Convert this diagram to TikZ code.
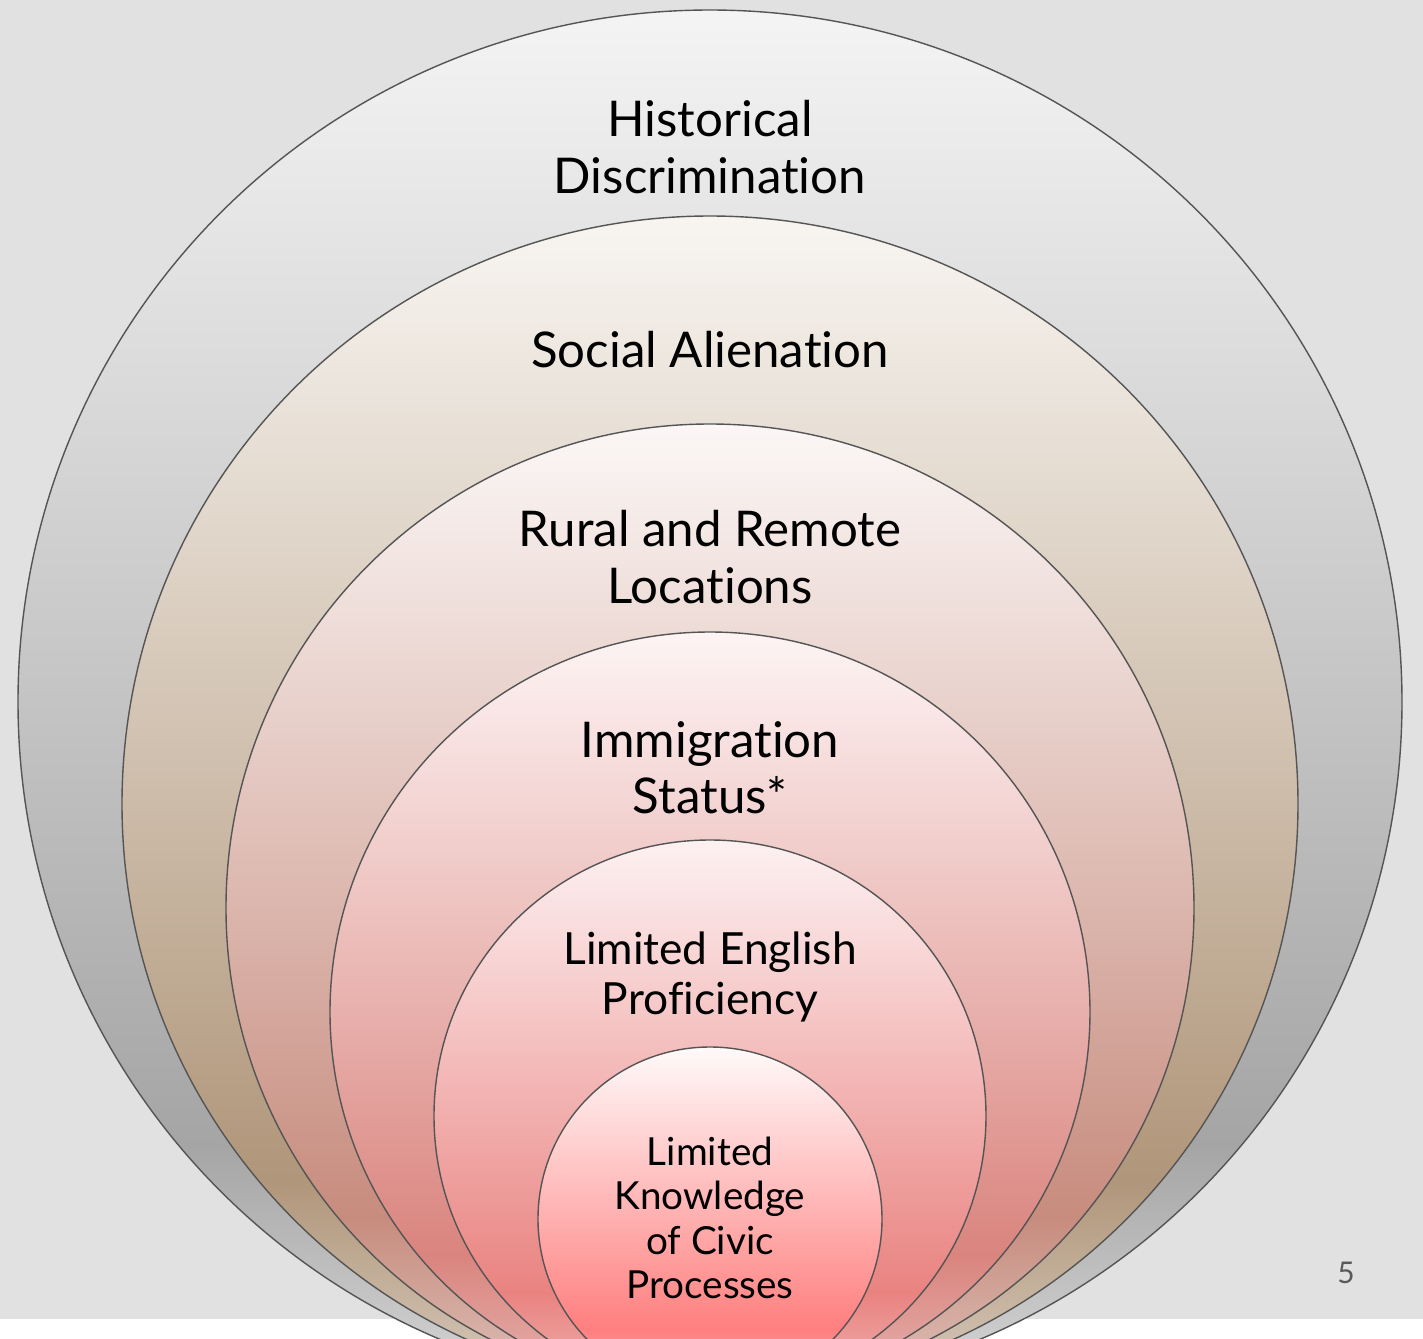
\documentclass[tikz,border=0pt]{standalone}
\usepackage{fontspec}
\setmainfont{Lato}[Ligatures=NoCommon]
\definecolor{slidebg}{HTML}{E1E1E1}
\definecolor{ringgray}{HTML}{555555}
\definecolor{pagegray}{HTML}{595959}
% ring colours: top, darkest, bottom
\definecolor{aTop}{HTML}{F4F4F4}\definecolor{aDark}{HTML}{A5A5A5}\definecolor{aLow}{HTML}{D8D8D8}
\definecolor{bTop}{HTML}{F8F5F1}\definecolor{bDark}{HTML}{B0967A}\definecolor{bLow}{HTML}{D8CBBD}
\definecolor{cTop}{HTML}{FBF7F6}\definecolor{cDark}{HTML}{C78C7E}\definecolor{cLow}{HTML}{DFC3BB}
\definecolor{dTop}{HTML}{FDF4F4}\definecolor{dDark}{HTML}{DA847E}\definecolor{dLow}{HTML}{E6B5B2}
\definecolor{eTop}{HTML}{FDF1F2}\definecolor{eDark}{HTML}{E98380}\definecolor{eLow}{HTML}{F0B5B3}
\definecolor{fTop}{HTML}{FFFAFA}\definecolor{fDark}{HTML}{FF7F7F}\definecolor{fLow}{HTML}{FFB0B0}
\newcommand\ringshading[4]{%
  \pgfdeclareverticalshading{#1}{100bp}{color(0bp)=(#4); color(25bp)=(#4);
    color(34bp)=(#3); color(75bp)=(#2); color(100bp)=(#2)}}
\ringshading{ringa}{aTop}{aDark}{aLow}
\ringshading{ringb}{bTop}{bDark}{bLow}
\ringshading{ringc}{cTop}{cDark}{cLow}
\ringshading{ringd}{dTop}{dDark}{dLow}
\ringshading{ringe}{eTop}{eDark}{eLow}
\ringshading{ringf}{fTop}{fDark}{fLow}
\tikzset{
  ringline/.style={draw=ringgray, line width=0.4pt},
  ringtext/.style={align=center, inner sep=0pt, text=black, font=\fontsize{14}{16}\selectfont},
  midtext/.style={ringtext, font=\fontsize{12.6}{14.2}\selectfont},
  coretext/.style={ringtext, font=\fontsize{11}{12.6}\selectfont}
}
\begin{document}
\begin{tikzpicture}[x=0.01cm,y=-0.01cm]
  \useasboundingbox (0,0) rectangle (1423,1339);
  \clip (0,0) rectangle (1423,1339);
  \fill[slidebg] (0,0) rectangle (1423,1319);
  \foreach \r/\cy/\sh in {692/702/ringa, 588/804/ringb, 484/908/ringc,
                          380/1012/ringd, 276/1116/ringe, 172/1219/ringf}
    \shadedraw[shading=\sh, ringline] (710,\cy) circle (\r);
  \node[ringtext] (hist)    at (710,147)  {Historical\\Discrimination};
  \node[ringtext] (social)  at (710,350)  {Social Alienation};
  \node[ringtext] (rural)   at (710,557)  {Rural and Remote\\Locations};
  \node[ringtext] (immig)   at (710,768)  {Immigration\\Status*};
  \node[midtext]  (english) at (710,977)  {Limited English\\Proficiency};
  \node[coretext] (civic)   at (710,1218) {Limited\\Knowledge\\of Civic\\Processes};
  \node[text=pagegray, font=\fontsize{8.5}{10}\selectfont] (pagenum) at (1346,1273) {5};
\end{tikzpicture}
\end{document}
